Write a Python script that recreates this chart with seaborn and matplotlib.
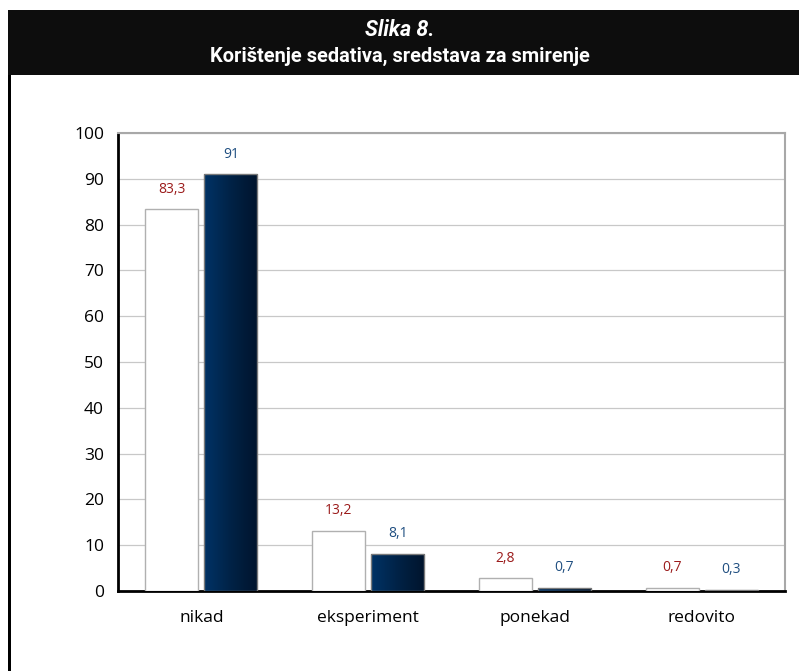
#!/usr/bin/env python3
"""plot.py - Slika 8: Korištenje sedativa, sredstava za smirenje."""
import numpy as np
import pandas as pd
import matplotlib
matplotlib.use("Agg")
import matplotlib.pyplot as plt
from matplotlib.patches import Rectangle
import seaborn as sns

categories = ["nikad", "eksperiment", "ponekad", "redovito"]
series_names = ["serija 1", "serija 2"]
values_1 = [83.3, 13.2, 2.8, 0.7]
values_2 = [91, 8.1, 0.7, 0.3]
y_ticks = [0, 10, 20, 30, 40, 50, 60, 70, 80, 90, 100]

sns.set_theme(style="white")
plt.rcParams["font.family"] = ["Open Sans", "DejaVu Sans"]

df = pd.DataFrame({
    "kategorija": categories * 2,
    "serija": [series_names[0]] * 4 + [series_names[1]] * 4,
    "postotak": values_1 + values_2,
})

W, H = 799, 671
fig = plt.figure(figsize=(W / 100, H / 100), dpi=100)
ax = fig.add_axes([118 / W, 1 - 591 / H, (785 - 118) / W, (591 - 133) / H])

sns.barplot(data=df, x="kategorija", y="postotak", hue="serija", ax=ax,
            palette=["white", "#002a55"], width=0.708, gap=0.1,
            edgecolor="#b0b0b0", linewidth=1.0, legend=False, zorder=3)

# dark bars get a left-to-right gradient
grad = np.linspace(0, 1, 256).reshape(1, -1)
cmap = matplotlib.colors.LinearSegmentedColormap.from_list(
    "bluegrad", ["#003366", "#002246", "#00142c"])
n = len(categories)
for i, p in enumerate(ax.patches):
    if i >= n:
        x0, y0 = p.get_x(), p.get_y()
        w, h = p.get_width(), p.get_height()
        im = ax.imshow(grad, cmap=cmap, aspect="auto", extent=[x0, x0 + w, y0, y0 + h],
                       zorder=3.5, interpolation="bicubic")
        im.set_clip_path(p)
        p.set_facecolor("none")
        p.set_edgecolor("#7a7a7a")
        p.set_zorder(4)

# value labels
for i, p in enumerate(ax.patches):
    v = values_1[i] if i < n else values_2[i - n]
    col = "#9b1b1b" if i < n else "#1f4e80"
    txt = f"{v:g}".replace(".", ",")
    ax.annotate(txt, (p.get_x() + p.get_width() / 2, p.get_height()),
                xytext=(0, 9), textcoords="offset points", ha="center", va="bottom",
                fontsize=10, color=col)

ax.set_xlim(-0.5, 3.5)
ax.set_ylim(0, 100)
ax.set_yticks(y_ticks)
ax.yaxis.grid(True, color="#c8c8c8", linewidth=0.9, zorder=0)
ax.set_axisbelow(True)

ax.set_xticks([-0.5, 0.5, 1.5, 2.5, 3.5])
ax.set_xticklabels([])
ax.set_xticks(range(n), minor=True)
ax.set_xticklabels(categories, minor=True)
ax.tick_params(axis="x", which="major", direction="out", length=6, width=1.5, color="black")
ax.tick_params(axis="x", which="minor", length=0, pad=14, labelsize=12.5, labelcolor="black")
ax.tick_params(axis="y", direction="out", length=6, width=1.5, color="black",
               labelsize=12.5, labelcolor="black", pad=4)
ax.set_xlabel("")
ax.set_ylabel("")

for s in ["left", "bottom"]:
    ax.spines[s].set_color("black")
    ax.spines[s].set_linewidth(2)
for s in ["top", "right"]:
    ax.spines[s].set_color("#a8a8a8")
    ax.spines[s].set_linewidth(1.5)

# title bar and frame
fig.patches.append(Rectangle((8 / W, 1 - 75 / H), 1 - 8 / W, 65 / H,
                             transform=fig.transFigure, facecolor="#0d0d0d",
                             edgecolor="none", zorder=0))
fig.patches.append(Rectangle((8 / W, 0), 3 / W, 1 - 75 / H,
                             transform=fig.transFigure, facecolor="black",
                             edgecolor="none", zorder=0))
title_font = ["Roboto", "DejaVu Sans"]
fig.text(0.5, 1 - 30 / H, "Slika 8.", ha="center", va="center", color="white",
         fontsize=15.5, fontweight="bold", fontstyle="italic", family=title_font)
fig.text(0.5, 1 - 56 / H, "Korištenje sedativa, sredstava za smirenje", ha="center",
         va="center", color="white", fontsize=14.4, fontweight="bold", family=title_font)

fig.savefig("out.png", dpi=100)
plt.close(fig)
